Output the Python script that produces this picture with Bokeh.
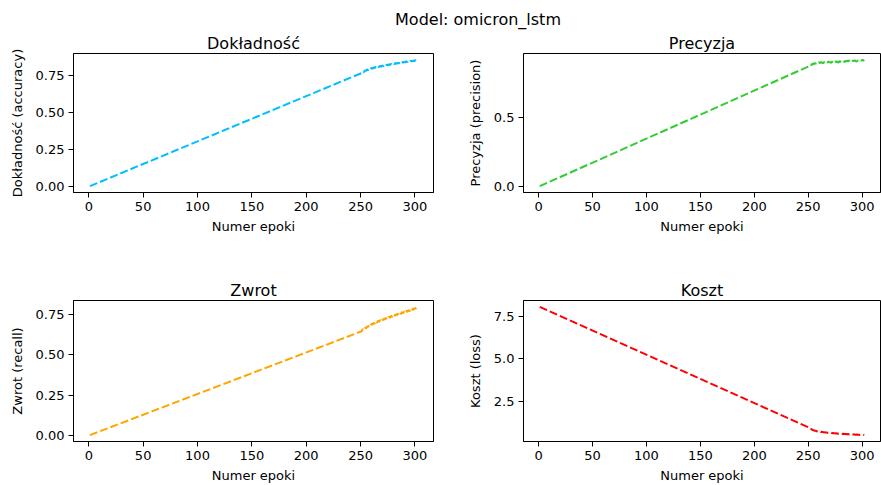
from bokeh.plotting import figure
from bokeh.layouts import column, row
from bokeh.models import Div, FixedTicker, NumeralTickFormatter, Range1d, ColumnDataSource
from bokeh.embed import file_html
from bokeh.resources import INLINE

suptitle = "Model: omicron_lstm"
x_label = "Numer epoki"
titles = ["Dokładność", "Precyzja", "Zwrot", "Koszt"]
y_labels = ["Dokładność (accuracy)", "Precyzja (precision)", "Zwrot (recall)", "Koszt (loss)"]
colors = ["#00bfff", "#32cd32", "#ffa500", "#ff0000"]

first_epoch = 1
tail_start_epoch = 251

acc_start = 0.0
acc_tail = [0.770, 0.781, 0.776, 0.789, 0.784, 0.795, 0.790, 0.801, 0.796, 0.806,
            0.799, 0.808, 0.804, 0.813, 0.807, 0.816, 0.810, 0.819, 0.813, 0.821,
            0.816, 0.825, 0.818, 0.827, 0.822, 0.830, 0.824, 0.833, 0.827, 0.835,
            0.830, 0.838, 0.832, 0.840, 0.835, 0.843, 0.837, 0.845, 0.840, 0.847,
            0.842, 0.850, 0.844, 0.852, 0.846, 0.854, 0.848, 0.856, 0.850, 0.858,
            0.853, 0.860]

prec_start = 0.0
prec_tail = [0.878, 0.889, 0.886, 0.896, 0.891, 0.901, 0.895, 0.904, 0.898, 0.906,
             0.900, 0.908, 0.902, 0.899, 0.909, 0.903, 0.910, 0.904, 0.911, 0.906,
             0.901, 0.911, 0.905, 0.913, 0.907, 0.914, 0.908, 0.904, 0.914, 0.909,
             0.916, 0.910, 0.906, 0.916, 0.911, 0.918, 0.912, 0.919, 0.913, 0.909,
             0.919, 0.914, 0.921, 0.915, 0.911, 0.920, 0.916, 0.922, 0.917, 0.923,
             0.918, 0.924]

rec_start = 0.0
rec_tail = [0.648, 0.662, 0.657, 0.672, 0.665, 0.680, 0.674, 0.688, 0.681, 0.696,
            0.689, 0.702, 0.695, 0.709, 0.700, 0.714, 0.706, 0.719, 0.711, 0.724,
            0.716, 0.729, 0.722, 0.735, 0.727, 0.740, 0.731, 0.745, 0.737, 0.749,
            0.741, 0.754, 0.746, 0.759, 0.750, 0.763, 0.755, 0.768, 0.759, 0.772,
            0.764, 0.777, 0.768, 0.781, 0.773, 0.786, 0.777, 0.790, 0.782, 0.794,
            0.788, 0.800]

loss_start = 8.05
loss_tail = [0.95, 0.89, 0.87, 0.82, 0.81, 0.77, 0.78, 0.745, 0.75, 0.72,
             0.73, 0.70, 0.71, 0.685, 0.69, 0.67, 0.68, 0.655, 0.665, 0.645,
             0.655, 0.632, 0.642, 0.62, 0.632, 0.61, 0.622, 0.60, 0.612, 0.592,
             0.604, 0.585, 0.595, 0.578, 0.588, 0.571, 0.58, 0.562, 0.574, 0.556,
             0.566, 0.55, 0.56, 0.543, 0.553, 0.537, 0.548, 0.532, 0.541, 0.527,
             0.536, 0.52]

y_ticks = [[0.0, 0.25, 0.5, 0.75], [0.0, 0.5], [0.0, 0.25, 0.5, 0.75], [2.5, 5.0, 7.5]]
y_formats = ["0.00", "0.0", "0.00", "0.0"]
x_ticks = [0, 50, 100, 150, 200, 250, 300]

series = [(acc_start, acc_tail), (prec_start, prec_tail), (rec_start, rec_tail), (loss_start, loss_tail)]

FONT = "DejaVu Sans"


def padded(lo, hi):
    m = (hi - lo) * 0.05
    return lo - m, hi + m


def make_panel(i, width, height, bl, br, bt, bb):
    start, tail = series[i]
    xs = [first_epoch] + list(range(tail_start_epoch, tail_start_epoch + len(tail)))
    ys = [start] + list(tail)
    src = ColumnDataSource(dict(x=xs, y=ys))
    x0, x1 = padded(min(xs), max(xs))
    y0, y1 = padded(min(ys), max(ys))
    p = figure(width=width, height=height, output_backend="svg", toolbar_location=None,
               x_range=Range1d(x0, x1), y_range=Range1d(y0, y1),
               min_border_left=bl, min_border_right=br, min_border_top=bt, min_border_bottom=bb,
               title=titles[i])
    p.line("x", "y", source=src, line_color=colors[i], line_width=2, line_dash="8 3")
    p.title.align = "center"
    p.title.text_font = FONT
    p.title.text_font_size = "16px"
    p.title.text_font_style = "normal"
    p.title.text_color = "black"
    p.title.standoff = 2
    p.xgrid.visible = False
    p.ygrid.visible = False
    p.outline_line_color = "black"
    p.outline_line_width = 1
    p.outline_line_alpha = 1
    p.background_fill_color = "white"
    p.border_fill_color = "white"
    for ax in (p.xaxis[0], p.yaxis[0]):
        ax.axis_line_color = "black"
        ax.major_tick_line_color = "black"
        ax.major_tick_out = 5
        ax.major_tick_in = 0
        ax.minor_tick_line_color = None
        ax.major_label_text_font = FONT
        ax.major_label_text_font_size = "13px"
        ax.major_label_text_color = "black"
        ax.axis_label_text_font = FONT
        ax.axis_label_text_font_size = "13px"
        ax.axis_label_text_font_style = "normal"
        ax.axis_label_text_color = "black"
        ax.major_label_standoff = 4
        ax.axis_label_standoff = 5
    p.yaxis[0].axis_label_standoff = 8
    p.xaxis[0].ticker = FixedTicker(ticks=x_ticks)
    p.xaxis[0].axis_label = x_label
    p.yaxis[0].ticker = FixedTicker(ticks=y_ticks[i])
    p.yaxis[0].formatter = NumeralTickFormatter(format=y_formats[i])
    p.yaxis[0].axis_label = y_labels[i]
    return p


head = Div(text=suptitle, width=881, height=30, margin=0,
           styles={"font-family": FONT, "font-size": "16px", "color": "black",
                   "text-align": "center", "padding-left": "75px", "padding-top": "10px",
                   "box-sizing": "border-box", "line-height": "19px"})

p1 = make_panel(0, 445, 225, 73, 12, 20, 63)
p2 = make_panel(1, 436, 225, 78, 1, 20, 63)
p3 = make_panel(2, 445, 230, 73, 12, 45, 44)
p4 = make_panel(3, 436, 230, 78, 1, 45, 44)

layout = column(head, row(p1, p2, spacing=0), row(p3, p4, spacing=0), spacing=0)

open("out.html", "w").write(file_html(layout, INLINE))
